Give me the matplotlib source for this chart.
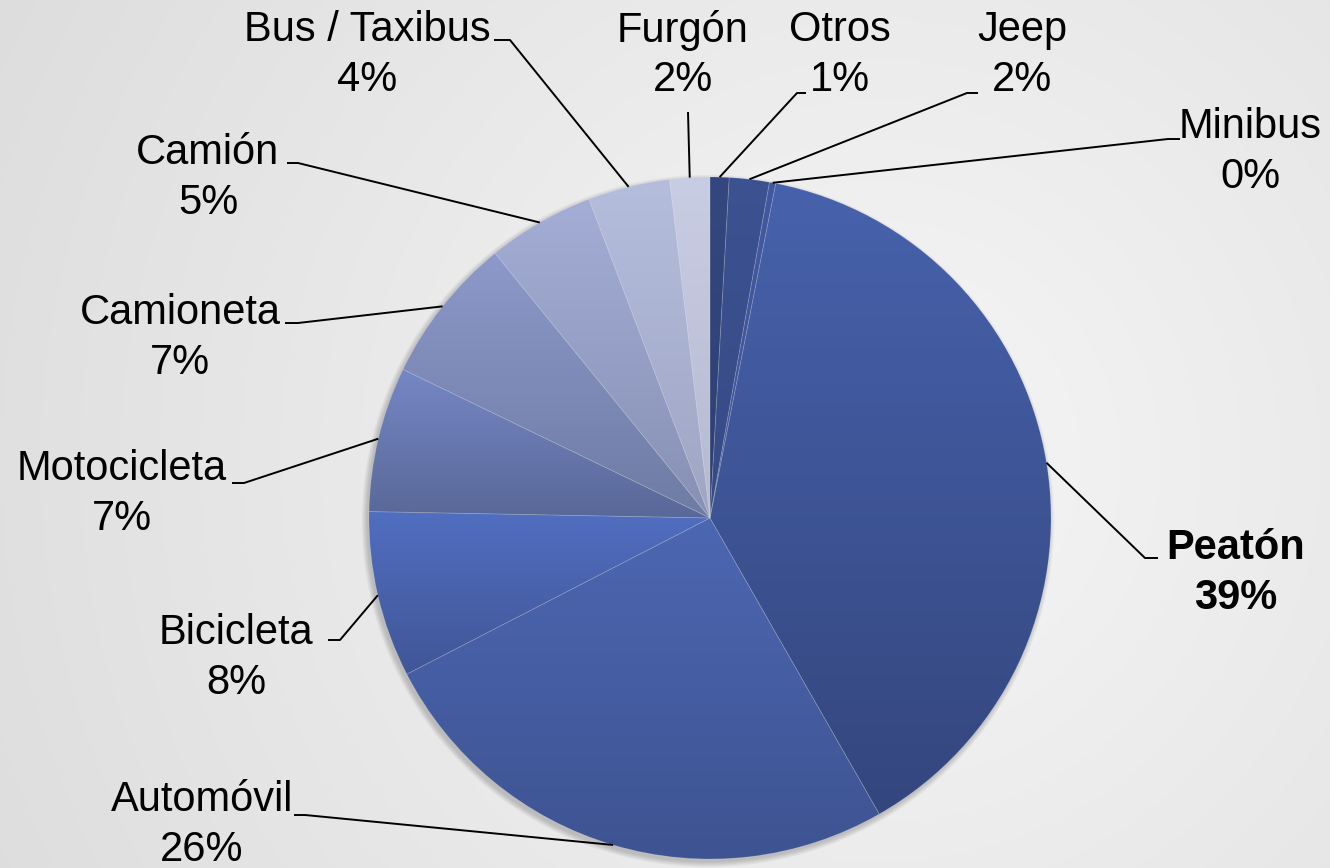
import numpy as np
import matplotlib.pyplot as plt
from matplotlib.colors import to_rgb
from matplotlib.patches import Circle

# ---------------- data ----------------
categories = ["Otros", "Jeep", "Minibus", "Peatón", "Automóvil", "Bicicleta",
              "Motocicleta", "Camioneta", "Camión", "Bus / Taxibus", "Furgón"]
values = [0.9, 1.9, 0.3, 38.8, 25.8, 7.9, 6.9, 7.0, 5.1, 3.9, 1.9]

top_colors = ["#34487F", "#3C5291", "#4259A0", "#4762AC", "#4C67B2", "#516EC0",
              "#7587C5", "#8C99CA", "#A4ADD5", "#B5BDDD", "#C8CDE3"]
bottom_colors = ["#2E3F72", "#364A85", "#3E539A", "#34467E", "#3E5391", "#405697",
                 "#596898", "#6E7BA3", "#8790B4", "#9FA6C4", "#B5BAD0"]

# ---------------- layout ----------------
W, H = 1330, 868
CX, CY, R = 710, 518, 341          # pie centre / radius in px (y from top)

# label text centre (x, y from top), elbow point, end of horizontal tick
label_layout = {
    "Otros":         ((840, 55),  (797, 93),  (806, 93)),
    "Jeep":          ((1022, 55), (967, 93),  (978, 93)),
    "Minibus":       ((1250, 152), (1168, 139), (1180, 139)),
    "Peatón":        ((1236, 573), (1145, 558), (1158, 558)),
    "Automóvil":     ((202, 825), (305, 815), (294, 815)),
    "Bicicleta":     ((236, 658), (340, 640), (328, 640)),
    "Motocicleta":   ((122, 494), (244, 483), (232, 483)),
    "Camioneta":     ((180, 338), (298, 323), (285, 323)),
    "Camión":        ((208, 178), (298, 163), (287, 163)),
    "Bus / Taxibus": ((367, 55),  (510, 40),  (494, 40)),
    "Furgón":        ((683, 55),  (688, 112), (688, 112)),
}

fig = plt.figure(figsize=(W / 100, H / 100), dpi=100)
ax = fig.add_axes([0, 0, 1, 1])

# background radial gradient
yy, xx = np.mgrid[0:H, 0:W]
d = np.clip(np.hypot(xx - 880, yy - 460) / 1000, 0, 1)
c_in, c_out = np.array(to_rgb("#F6F6F6")), np.array(to_rgb("#DDDDDD"))
bg = c_in[None, None, :] * (1 - d[..., None]) + c_out[None, None, :] * d[..., None]
ax.imshow(bg, extent=(0, W, 0, H), origin="upper", zorder=0, aspect="auto")

cy = H - CY
# soft shadow
for i in range(10):
    ax.add_patch(Circle((CX - 2, cy - 3), R + 0.6 * i, facecolor="black",
                        edgecolor="none", alpha=0.018, zorder=1))

wedges, _ = ax.pie(values, startangle=90, counterclock=False, center=(CX, cy),
                   radius=R, colors=top_colors,
                   wedgeprops=dict(linewidth=0.6, edgecolor=(1, 1, 1, 0.14)))

for w, ct, cb in zip(wedges, top_colors, bottom_colors):
    w.set_zorder(3)
    ext = w.get_path().get_extents()
    grad = np.linspace(0, 1, 256)[:, None, None]
    img = np.array(to_rgb(ct))[None, None, :] * (1 - grad) + np.array(to_rgb(cb))[None, None, :] * grad
    im = ax.imshow(img, extent=(ext.x0, ext.x1, ext.y0, ext.y1), origin="upper",
                   aspect="auto", interpolation="bilinear", zorder=2)
    im.set_clip_path(w)
    w.set_facecolor("none")

total = sum(values)
for w, cat, v in zip(wedges, categories, values):
    pct = int(np.floor(v / total * 100 + 0.5))
    (tx, ty), (ex, ey), (hx, hy) = label_layout[cat]
    ang = np.deg2rad((w.theta1 + w.theta2) / 2)
    px, py = CX + R * np.cos(ang), cy + R * np.sin(ang)
    ax.plot([px, ex, hx], [py, H - ey, H - hy], color="black", lw=1.4,
            solid_capstyle="butt", zorder=4)
    ax.text(tx, H - ty, f"{cat}\n{pct}%", ha="center", va="center",
            multialignment="center", fontsize=30, linespacing=1.3,
            family="Liberation Sans",
            fontweight="bold" if cat == "Peatón" else "normal",
            color="black", zorder=5)

ax.set_xlim(0, W)
ax.set_ylim(0, H)
ax.set_aspect("auto")
ax.axis("off")
fig.savefig("out.png", dpi=100)
